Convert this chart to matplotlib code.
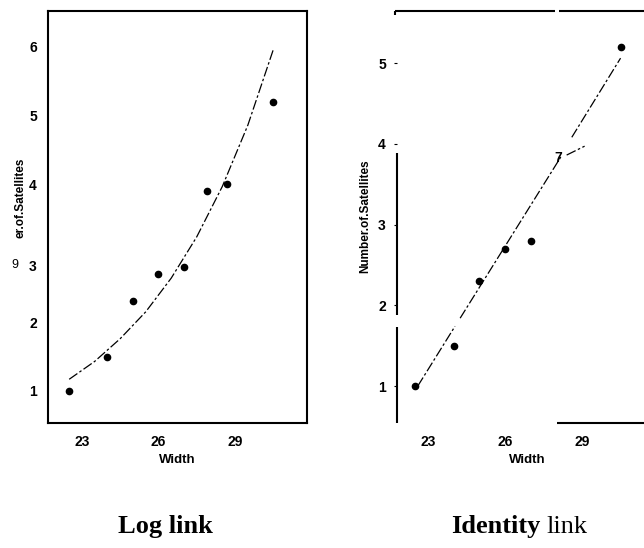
"""
Среднее число сателлитов в зависимости от ширины панциря:
подгонка с log link и identity link
"""

import matplotlib
matplotlib.use("Agg")
import matplotlib.pyplot as plt
import matplotlib.transforms as mtransforms

# Средние по группам ширины
width = [22.5, 24.0, 25.0, 26.0, 27.0, 27.9, 28.7, 30.5]
mean_sat = [1.0, 1.5, 2.3, 2.7, 2.8, 3.9, 4.0, 5.2]
right_idx = [0, 1, 2, 3, 4, 7]  # точки, видимые на правом графике

# Кривая log link
log_fit_x = [22.5, 23.5, 24.5, 25.5, 26.5, 27.5, 28.5, 29.5, 30.5]
log_fit_y = [1.17, 1.43, 1.76, 2.15, 2.64, 3.24, 3.97, 4.86, 5.96]

# Прямая identity link (по кускам, как на оттиске)
id_fit_pieces = [
    ([22.6, 24.05], [1.0, 1.74]),
    ([24.25, 28.2], [1.84, 3.85]),
    ([28.4, 29.1], [3.86, 3.97]),
    ([28.6, 30.5], [4.08, 5.06]),
]

x_ticks = [23, 26, 29]
left_y_ticks = [1, 2, 3, 4, 5, 6]
right_y_ticks = [1, 2, 3, 4, 5]

W, H = 644, 548
SANS = "Liberation Sans"
SERIF = "Liberation Serif"

fig = plt.figure(figsize=(W / 100, H / 100), dpi=100)

ax1 = fig.add_axes([48 / W, 125 / H, 259 / W, 412 / H])
ax2 = fig.add_axes([397 / W, 125 / H, 260 / W, 412 / H])

dash = (0, (8, 2, 2, 2))

# --- Log link ---
ax1.plot(log_fit_x, log_fit_y, color="black", linewidth=0.9, linestyle=dash)
ax1.plot(width, mean_sat, "o", color="black", markersize=4.5)
ax1.set_xlim(21.67, 31.82)
ax1.set_ylim(0.535, 6.52)
ax1.set_xticks(x_ticks)
ax1.set_yticks(left_y_ticks)
for sp in ax1.spines.values():
    sp.set_linewidth(1.5)
ax1.tick_params(length=0, labelsize=10, pad=9)
ax1.tick_params(axis="y", pad=8)
for lab in ax1.get_xticklabels() + ax1.get_yticklabels():
    lab.set_fontfamily(SANS)
    lab.set_fontweight("bold")
# метка "3" съехала вниз
lab3 = ax1.get_yticklabels()[2]
lab3.set_transform(lab3.get_transform() +
                   mtransforms.ScaledTranslation(0, -0.12, fig.dpi_scale_trans))
ax1.set_xlabel("Width", fontsize=9.5, fontweight="bold", family=SANS, labelpad=3)
ax1.set_ylabel("er.of.Satellites", fontsize=8.5, fontweight="bold", family=SANS)
ax1.yaxis.set_label_coords(-0.082, 0.546)

# --- Identity link ---
for xs, ys in id_fit_pieces:
    ax2.plot(xs, ys, color="black", linewidth=0.9, linestyle=dash)
ax2.plot([width[i] for i in right_idx], [mean_sat[i] for i in right_idx],
         "o", color="black", markersize=4.5)
ax2.set_xlim(21.79, 31.92)
ax2.set_ylim(0.542, 5.644)
ax2.set_xticks(x_ticks)
ax2.set_yticks(right_y_ticks)
for sp in ax2.spines.values():
    sp.set_visible(False)
ax2.tick_params(axis="x", length=0, labelsize=10, pad=9)
ax2.tick_params(axis="y", length=2, width=0.8, labelsize=10, pad=6)
for lab in ax2.get_xticklabels() + ax2.get_yticklabels():
    lab.set_fontfamily(SANS)
    lab.set_fontweight("bold")

# рамка с разрывами
frame = [
    ([0, 0], [0.0, 0.233]),
    ([0, 0], [0.262, 0.655]),
    ([-0.008, -0.008], [0.99, 1.0]),
    ([-0.008, 0.608], [1.0, 1.0]),
    ([0.623, 1.0], [1.0, 1.0]),
    ([0.615, 1.0], [0.0, 0.0]),
]
for xs, ys in frame:
    ax2.plot(xs, ys, color="black", linewidth=1.5, transform=ax2.transAxes,
             clip_on=False, solid_capstyle="butt")

ax2.set_xlabel("Width", fontsize=9.5, fontweight="bold", family=SANS, labelpad=3)
ax2.set_ylabel("Number.of.Satellites", fontsize=8.5, fontweight="bold", family=SANS)
ax2.yaxis.set_label_coords(-0.1, 0.502)

# случайные знаки на оттиске
fig.text(15 / W, 1 - 265 / H, "9", fontsize=9, family=SANS, ha="center", va="center")
fig.text(558 / W, 1 - 158 / H, "7", fontsize=10, fontweight="bold", family=SANS,
         ha="center", va="center")

# подписи панелей
fig.text(165 / W, 15 / H, "Log link", fontsize=19, fontweight="bold",
         family=SERIF, ha="center", va="baseline")
fig.text(541 / W, 15 / H, "Identity", fontsize=19, fontweight="bold",
         family=SERIF, ha="right", va="baseline")
fig.text(546 / W, 15 / H, "link", fontsize=19, family=SERIF,
         ha="left", va="baseline")

fig.savefig("out.png", dpi=100)
